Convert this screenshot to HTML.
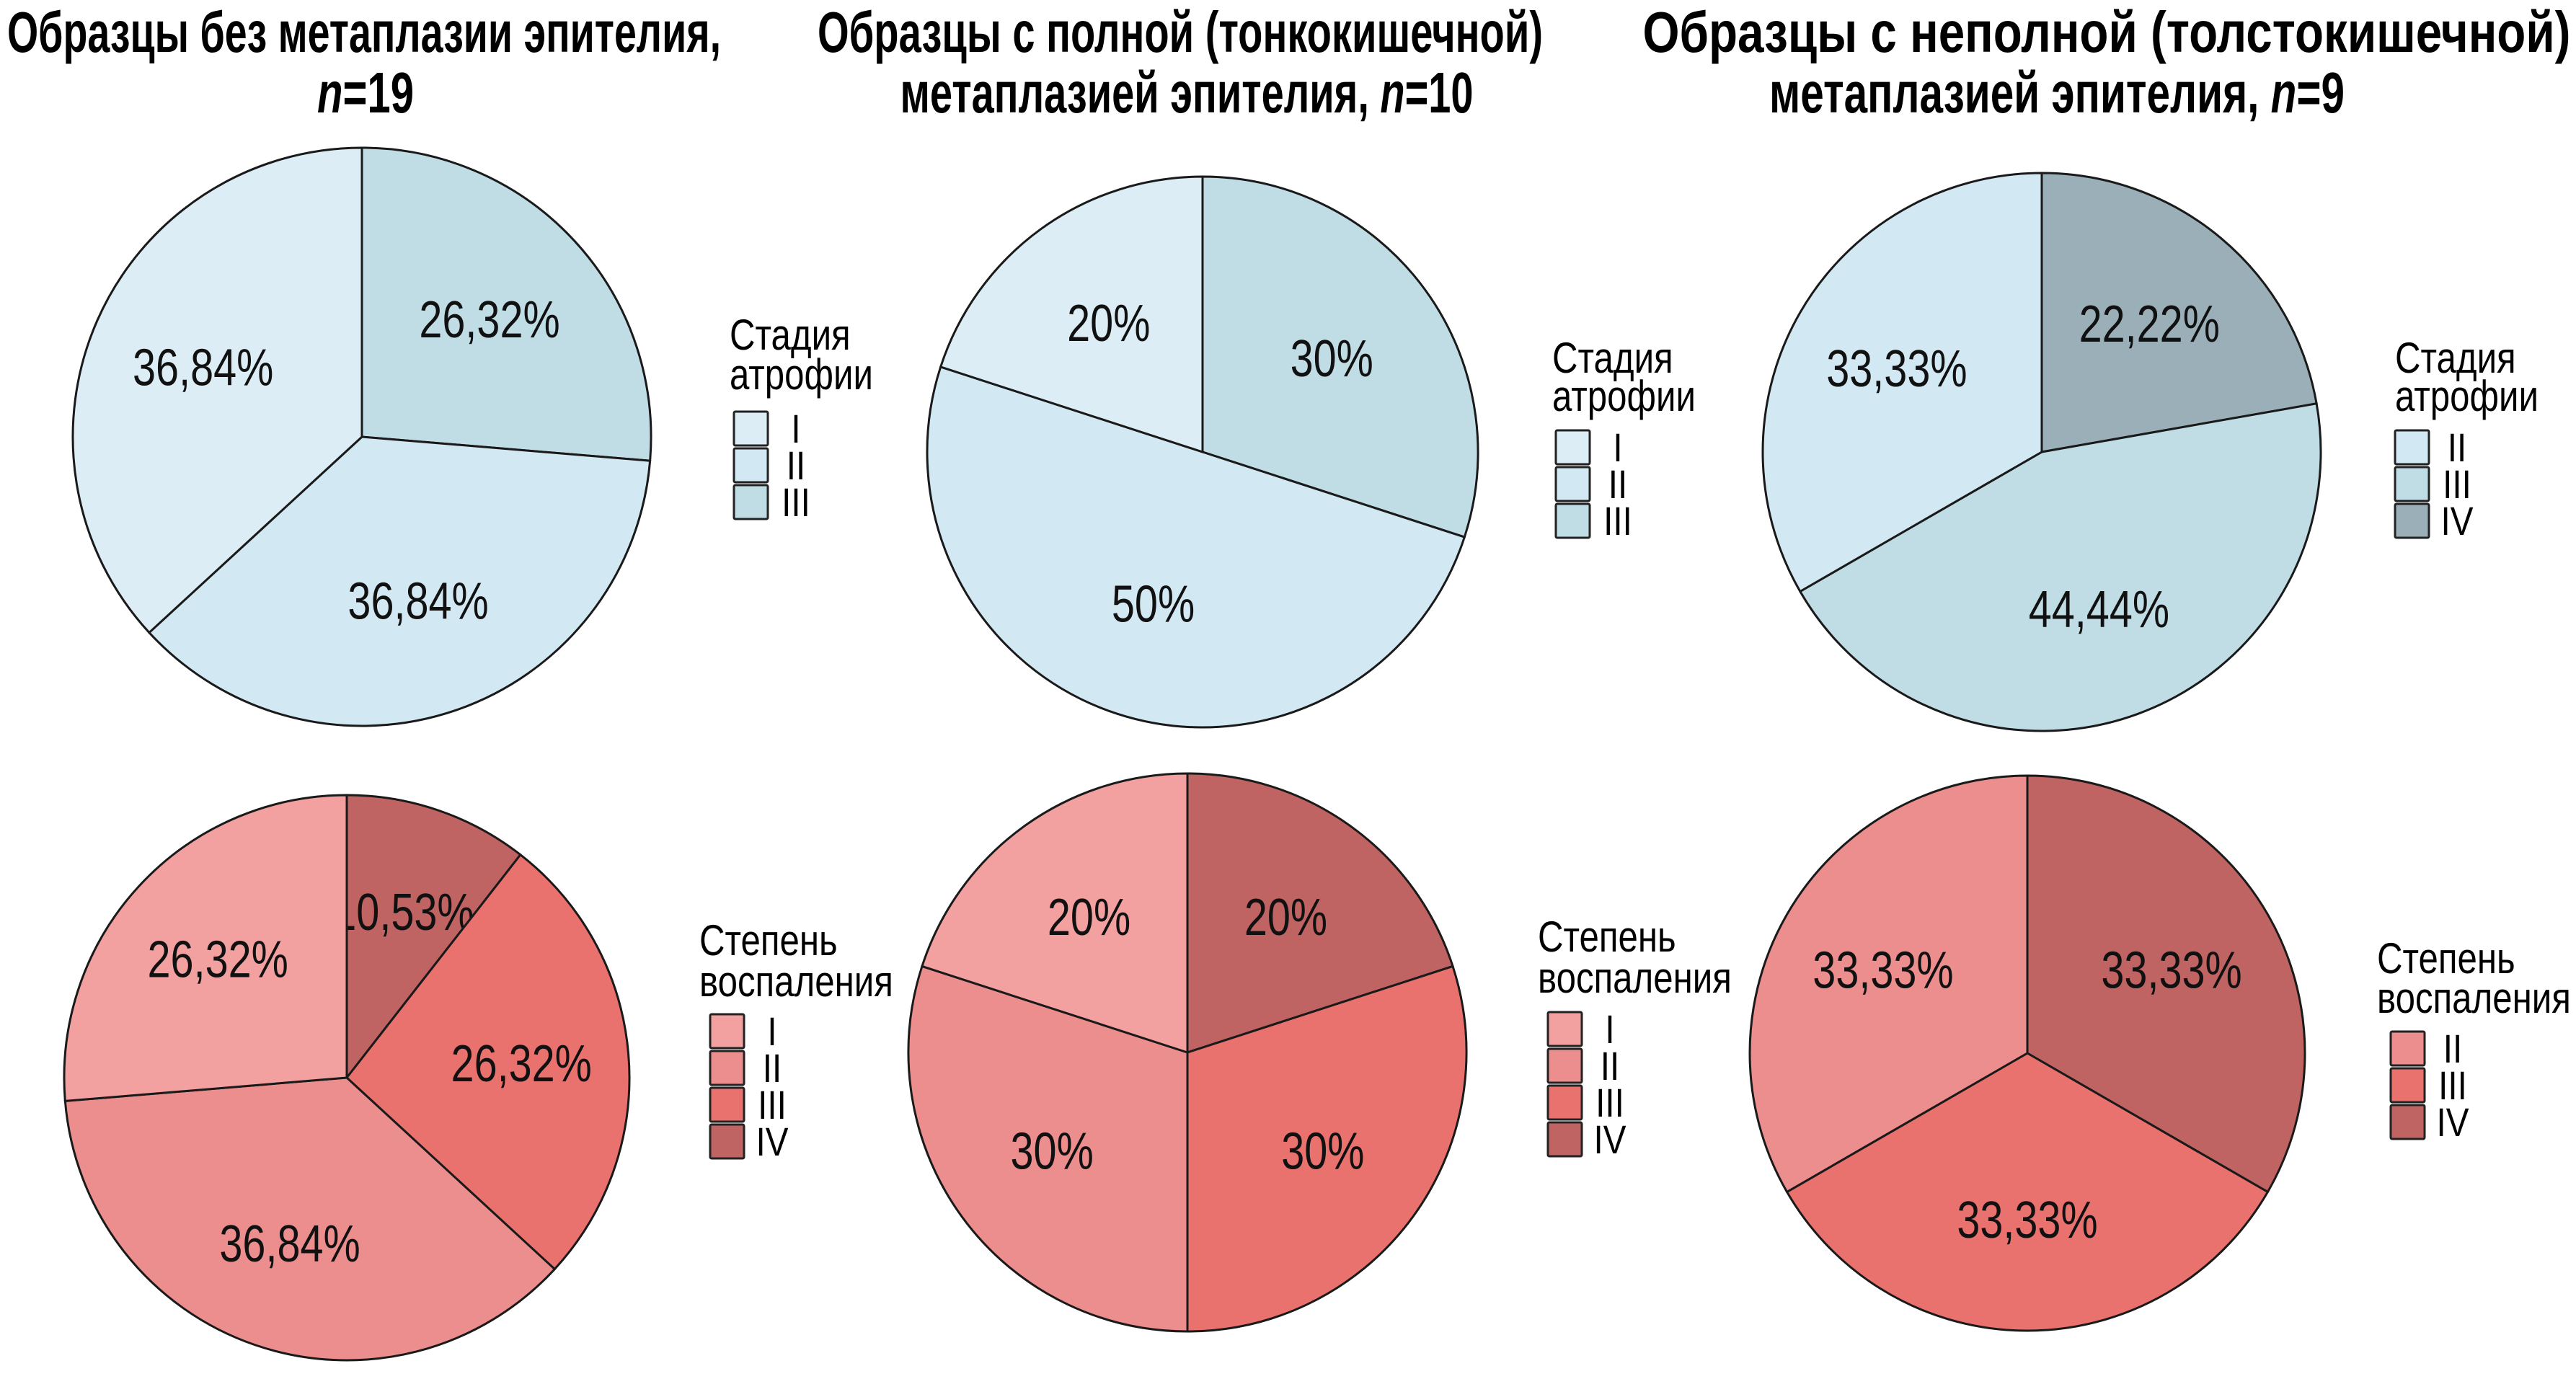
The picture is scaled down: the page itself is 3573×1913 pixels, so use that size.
<!DOCTYPE html>
<html><head><meta charset="utf-8"><style>
html,body{margin:0;padding:0;background:#fff}
svg{display:block}
text{font-family:"Liberation Sans Narrow","Liberation Sans",sans-serif}
</style></head><body>
<svg id="chart" width="3573" height="1913" viewBox="0 0 3573 1913" xmlns="http://www.w3.org/2000/svg">
<g font-weight="bold" font-size="80" fill="#000" text-anchor="middle">
<text x="505" y="72" textLength="990" lengthAdjust="spacingAndGlyphs">Образцы без метаплазии эпителия,</text>
<text x="507" y="156" textLength="134" lengthAdjust="spacingAndGlyphs"><tspan font-style="italic">n</tspan>=19</text>
<text x="1637" y="72" textLength="1006" lengthAdjust="spacingAndGlyphs">Образцы с полной (тонкокишечной)</text>
<text x="1646" y="156" textLength="795" lengthAdjust="spacingAndGlyphs">метаплазией эпителия, <tspan font-style="italic">n</tspan>=10</text>
<text x="2922" y="72" textLength="1287" lengthAdjust="spacingAndGlyphs">Образцы с неполной (толстокишечной)</text>
<text x="2853" y="156" textLength="798" lengthAdjust="spacingAndGlyphs">метаплазией эпителия, <tspan font-style="italic">n</tspan>=9</text>
</g>
</svg>
<script>
// Data arrays (clockwise from 12 o'clock)
const pie1Values = [26.32, 36.84, 36.84];
const pie1Cats = ["III", "II", "I"];
const pie2Values = [30, 50, 20];
const pie2Cats = ["III", "II", "I"];
const pie3Values = [22.22, 44.44, 33.33];
const pie3Cats = ["IV", "III", "II"];
const pie4Values = [10.53, 26.32, 36.84, 26.32];
const pie4Cats = ["IV", "III", "II", "I"];
const pie5Values = [20, 30, 30, 20];
const pie5Cats = ["IV", "III", "II", "I"];
const pie6Values = [33.33, 33.33, 33.33];
const pie6Cats = ["IV", "III", "II"];
const pie1Labels = ["26,32%", "36,84%", "36,84%"];
const pie2Labels = ["30%", "50%", "20%"];
const pie3Labels = ["22,22%", "44,44%", "33,33%"];
const pie4Labels = ["10,53%", "26,32%", "36,84%", "26,32%"];
const pie5Labels = ["20%", "30%", "30%", "20%"];
const pie6Labels = ["33,33%", "33,33%", "33,33%"];
const legend1Items = ["I", "II", "III"];
const legend2Items = ["I", "II", "III"];
const legend3Items = ["II", "III", "IV"];
const legend4Items = ["I", "II", "III", "IV"];
const legend5Items = ["I", "II", "III", "IV"];
const legend6Items = ["II", "III", "IV"];

const blue = {I:"#dcedf5", II:"#d2e8f2", III:"#c0dde6", IV:"#9aafb7"};
const red = {I:"#f2a0a0", II:"#ec8e8d", III:"#ea726e", IV:"#bf6462"};

const svg = document.getElementById('chart');
const NS = "http://www.w3.org/2000/svg";
const SX = 0.8;

function drawPie(name, cx, cy, r, values, cats, labels, pal, labFrac) {
  const g = document.createElementNS(NS, 'g');
  
  
  svg.appendChild(g);
  const total = values.reduce((a, b) => a + b, 0);
  let acc = 0;
  values.forEach((v, i) => {
    const a0 = acc / total * 2 * Math.PI;
    acc += v;
    const a1 = acc / total * 2 * Math.PI;
    const x0 = cx + r * Math.sin(a0), y0 = cy - r * Math.cos(a0);
    const x1 = cx + r * Math.sin(a1), y1 = cy - r * Math.cos(a1);
    const large = (a1 - a0) > Math.PI ? 1 : 0;
    const p = document.createElementNS(NS, 'path');
    p.setAttribute('d', `M${cx},${cy} L${x0},${y0} A${r},${r} 0 ${large} 1 ${x1},${y1} Z`);
    p.setAttribute('fill', pal[cats[i]]);
    p.setAttribute('stroke', '#1a1a1a');
    p.setAttribute('stroke-width', '3');
    
    
    g.appendChild(p);
    const am = (a0 + a1) / 2;
    const lx = cx + r * labFrac * Math.sin(am);
    const ly = cy - r * labFrac * Math.cos(am) + 25;
    const t = document.createElementNS(NS, 'text');
    t.setAttribute('transform', `translate(${lx},${ly}) scale(${SX},1)`);
    t.setAttribute('text-anchor', 'middle');
    t.setAttribute('font-size', '72');
    t.setAttribute('fill', '#111');
    t.textContent = labels[i];
    
    
    g.appendChild(t);
  });
}

function drawLegend(name, x, y1, y2, bx, by, t1, t2, items, pal) {
  const g = document.createElementNS(NS, 'g');
  
  
  svg.appendChild(g);
  [[t1, y1], [t2, y2]].forEach(([s, yy]) => {
    const t = document.createElementNS(NS, 'text');
    t.setAttribute('transform', `translate(${x},${yy}) scale(0.82,1)`);
    t.setAttribute('font-size', '60'); t.setAttribute('fill', '#000');
    t.textContent = s;
    
    
    g.appendChild(t);
  });
  items.forEach((it, i) => {
    const r = document.createElementNS(NS, 'rect');
    r.setAttribute('x', bx); r.setAttribute('y', by + i * 51);
    r.setAttribute('width', 47); r.setAttribute('height', 47);
    r.setAttribute('rx', 2);
    r.setAttribute('fill', pal[it]); r.setAttribute('stroke', '#222'); r.setAttribute('stroke-width', 3);
    
    
    g.appendChild(r);
    const t = document.createElementNS(NS, 'text');
    t.setAttribute('transform', `translate(${bx + 86},${by + i * 51 + 43}) scale(0.85,1)`);
    t.setAttribute('text-anchor', 'middle');
    t.setAttribute('font-size', '56'); t.setAttribute('fill', '#000');
    t.textContent = it;
    
    
    g.appendChild(t);
  });
}

drawPie('pie-no-metaplasia-atrophy', 502, 606, 401, pie1Values, pie1Cats, pie1Labels, blue, 0.6);
drawPie('pie-complete-atrophy', 1668, 627, 382, pie2Values, pie2Cats, pie2Labels, blue, 0.58);
drawPie('pie-incomplete-atrophy', 2832, 627, 387, pie3Values, pie3Cats, pie3Labels, blue, 0.6);
drawPie('pie-no-metaplasia-inflammation', 481, 1495, 392, pie4Values, pie4Cats, pie4Labels, red, 0.62);
drawPie('pie-complete-inflammation', 1647, 1460, 387, pie5Values, pie5Cats, pie5Labels, red, 0.6);
drawPie('pie-incomplete-inflammation', 2812, 1461, 385, pie6Values, pie6Cats, pie6Labels, red, 0.6);

drawLegend('legend-atrophy-1', 1012, 485, 540, 1018, 571, 'Стадия', 'атрофии', legend1Items, blue);
drawLegend('legend-atrophy-2', 2153, 517, 570, 2158, 597, 'Стадия', 'атрофии', legend2Items, blue);
drawLegend('legend-atrophy-3', 3322, 517, 570, 3322, 597, 'Стадия', 'атрофии', legend3Items, blue);
drawLegend('legend-inflammation-1', 970, 1325, 1382, 985, 1407, 'Степень', 'воспаления', legend4Items, red);
drawLegend('legend-inflammation-2', 2133, 1320, 1377, 2147, 1404, 'Степень', 'воспаления', legend5Items, red);
drawLegend('legend-inflammation-3', 3297, 1350, 1405, 3316, 1431, 'Степень', 'воспаления', legend6Items, red);
</script>
</body></html>
